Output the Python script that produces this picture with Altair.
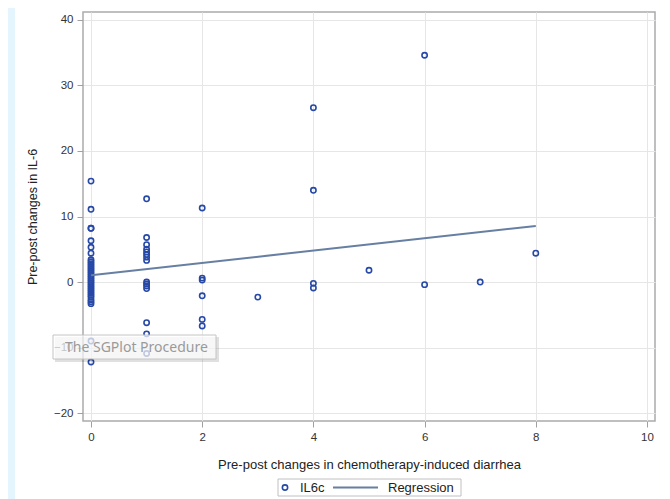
import altair as alt
import pandas as pd

# ---- data ----
x0_vals = [15.4, 11.1, 8.2, 8.2, 6.3, 5.3, 4.4, 3.4, 3.1, 2.8, 2.5, 2.2, 1.9, 1.6, 1.3,
           1.0, 0.7, 0.4, 0.1, -0.2, -0.5, -0.8, -1.1, -1.4, -1.7, -2.0, -2.3, -2.7,
           -3.0, -3.3, -9.0, -12.2]
x1_vals = [12.7, 6.8, 5.7, 5.0, 4.6, 4.2, 3.8, 3.3, 0.0, -0.3, -0.6, -1.0, -6.2, -7.9, -10.9]
x2_vals = [11.3, 0.6, 0.3, -2.1, -5.7, -6.7]
x3_vals = [-2.3]
x4_vals = [26.6, 14.0, -0.2, -0.9]
x5_vals = [1.8]
x6_vals = [34.6, -0.4]
x7_vals = [0.0]
x8_vals = [4.4]

groups = [(0, x0_vals), (1, x1_vals), (2, x2_vals), (3, x3_vals), (4, x4_vals),
          (5, x5_vals), (6, x6_vals), (7, x7_vals), (8, x8_vals)]

reg_x = [0, 8]
reg_y = [1.05, 8.55]

x_ticks = [0, 2, 4, 6, 8, 10]
y_ticks = [-20, -10, 0, 10, 20, 30, 40]

x_title = "Pre-post changes in chemotherapy-induced diarrhea"
y_title = "Pre-post changes in IL-6"
legend_labels = ["IL6c", "Regression"]
tooltip_text = "The SGPlot Procedure"

# ---- tables ----
pts = pd.DataFrame([{"x": gx, "y": v} for gx, vals in groups for v in vals])
reg = pd.DataFrame({"x": reg_x, "y": reg_y})
one = pd.DataFrame({"a": [0]})

W, H = 572, 409
FONT = "Liberation Sans"
MARK_BLUE = "#2648A6"
LINE_COL = "#667FA2"

xscale = alt.Scale(domain=[-0.144, 10.144], nice=False, zero=False)
yscale = alt.Scale(domain=[-21.2, 41.2], nice=False, zero=False)

xaxis = alt.Axis(values=x_ticks, format="d", title=x_title, grid=True, domain=False,
                 tickSize=6, labelPadding=4, tickColor="#A0A0A0",
                 labelFont=FONT, labelFontSize=11.5, labelColor="#333333",
                 titleFont=FONT, titleFontSize=13, titleFontWeight="normal",
                 titleColor="#222222", titleX=W / 2, titleY=43,
                 titleBaseline="middle", gridColor="#E6E6E6")
yaxis = alt.Axis(values=y_ticks, format="d", title=y_title, grid=True, domain=False,
                 tickSize=6, labelPadding=4, tickColor="#A0A0A0",
                 labelFont=FONT, labelFontSize=11.5, labelColor="#333333",
                 titleFont=FONT, titleFontSize=12.5, titleFontWeight="normal",
                 titleColor="#222222", titleX=-51, titleY=H / 2,
                 titleAngle=270, titleBaseline="middle", gridColor="#E6E6E6")

strip = alt.Chart(one).mark_rect(color="#E4F5FD").encode(
    x=alt.value(-75), x2=alt.value(-68), y=alt.value(-4), y2=alt.value(487))

points = alt.Chart(pts).mark_point(shape="circle", filled=False, size=28,
                                   strokeWidth=1.6, color=MARK_BLUE, opacity=1).encode(
    x=alt.X("x:Q", scale=xscale, axis=xaxis),
    y=alt.Y("y:Q", scale=yscale, axis=yaxis))

line = alt.Chart(reg).mark_line(color=LINE_COL, strokeWidth=2).encode(
    x=alt.X("x:Q", scale=xscale), y=alt.Y("y:Q", scale=yscale))

# tooltip overlay as seen in the reference
tip_shadow = alt.Chart(one).mark_rect(color="#000000", opacity=0.12).encode(
    x=alt.value(-28), x2=alt.value(136), y=alt.value(325), y2=alt.value(350))
tip_box = alt.Chart(one).mark_rect(fill="white", fillOpacity=0.72,
                                   stroke="#C4C4C4", strokeWidth=1).encode(
    x=alt.value(-30), x2=alt.value(133), y=alt.value(323), y2=alt.value(347))
tip_text = alt.Chart(one).mark_text(align="left", baseline="middle", font="Noto Sans",
                                    fontSize=14, color="#9A9A9A").encode(
    x=alt.value(-18), y=alt.value(336), text=alt.value(tooltip_text))

# legend
LY = 475.5
leg_box = alt.Chart(one).mark_rect(fill="white", stroke="#C0C0C0", strokeWidth=1).encode(
    x=alt.value(195), x2=alt.value(378), y=alt.value(467), y2=alt.value(484))
leg_pt = alt.Chart(one).mark_point(shape="circle", filled=False, size=28,
                                   strokeWidth=1.6, color=MARK_BLUE, opacity=1).encode(
    x=alt.value(202), y=alt.value(LY))
leg_t1 = alt.Chart(one).mark_text(align="left", baseline="middle", font=FONT,
                                  fontSize=13, color="#222222").encode(
    x=alt.value(217), y=alt.value(LY), text=alt.value(legend_labels[0]))
leg_line = alt.Chart(one).mark_rule(color=LINE_COL, strokeWidth=2).encode(
    x=alt.value(250), x2=alt.value(295), y=alt.value(LY))
leg_t2 = alt.Chart(one).mark_text(align="left", baseline="middle", font=FONT,
                                  fontSize=13, color="#222222").encode(
    x=alt.value(305), y=alt.value(LY), text=alt.value(legend_labels[1]))

chart = alt.layer(strip, points, line, tip_shadow, tip_box, tip_text,
                  leg_box, leg_pt, leg_t1, leg_line, leg_t2).properties(
    width=W, height=H,
    autosize=alt.AutoSizeParams(type="none"),
    padding={"left": 75, "top": 4, "right": 7, "bottom": 78},
    background="white",
).configure_view(stroke="#ABABAB", strokeWidth=1.5)

chart.save("out.html", embed_options={"renderer": "svg", "actions": False})
